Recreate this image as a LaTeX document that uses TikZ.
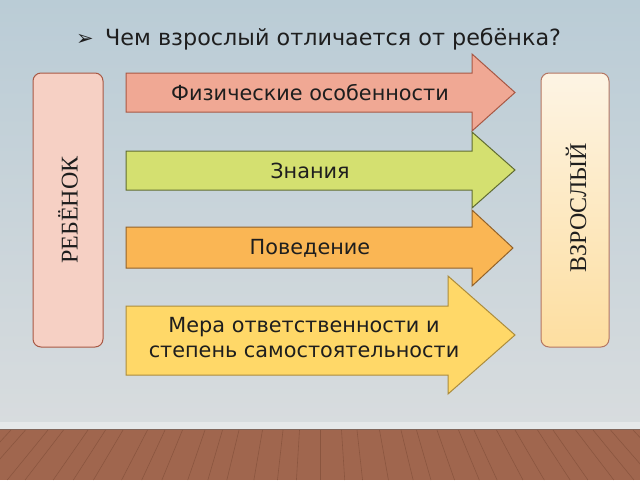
\documentclass[tikz,border=0pt]{standalone}
\usepackage{fontspec}
\setmainfont{DejaVu Sans}
\newfontfamily\serifbox{Liberation Serif}
\newfontfamily\symfont{DejaVu Sans}
\definecolor{bgtop}{RGB}{186,204,214}
\definecolor{bgmid}{RGB}{228,233,236}
\definecolor{bgbot}{RGB}{216,220,222}
\definecolor{floorc}{RGB}{160,102,78}
\definecolor{plank}{RGB}{118,70,50}
\definecolor{txt}{RGB}{30,30,30}
\definecolor{pinkf}{RGB}{240,168,148}
\definecolor{pinkd}{RGB}{168,88,68}
\definecolor{greenf}{RGB}{212,224,112}
\definecolor{greend}{RGB}{96,108,50}
\definecolor{orangef}{RGB}{250,182,84}
\definecolor{oranged}{RGB}{146,98,42}
\definecolor{yellowf}{RGB}{255,216,104}
\definecolor{yellowd}{RGB}{172,140,60}
\definecolor{childf}{RGB}{246,208,196}
\definecolor{adulttop}{RGB}{253,244,228}
\definecolor{adultbot}{RGB}{253,222,160}
\definecolor{adultd}{RGB}{180,118,98}
\tikzset{
  arrowshape/.style={line width=1pt, line join=miter},
  arrowtext/.style={text=txt, font=\fontsize{20.8}{25}\selectfont, align=center},
  sidebox/.style={line width=1pt, rounded corners=8pt},
  sidetext/.style={text=txt, font=\serifbox\fontsize{24}{28}\selectfont, rotate=90}
}
\begin{document}
\begin{tikzpicture}[x=1pt,y=-1pt]
\useasboundingbox (0,0) rectangle (640,480);
% background
\shade[top color=bgtop, middle color=bgmid, bottom color=bgbot] (0,0) rectangle (640,429);
\fill[white, opacity=0.35] (0,422) rectangle (640,429);
% floor
\fill[floorc] (0,429) rectangle (640,480);
\foreach \i/\d in {-17/0,-16/3,-15/-2,-14/1,-13/-3,-12/2,-11/0,-10/-2,-9/3,-8/1,-7/-1,-6/2,-5/0,-4/-3,-3/1,-2/2,-1/-1,0/0,1/2,2/-2,3/1,4/3,5/-1,6/0,7/2,8/-2,9/1,10/0,11/3,12/-1,13/2,14/0,15/-2,16/1,17/0} {
  \pgfmathsetmacro{\xt}{320+\i*19.5+\d}
  \pgfmathsetmacro{\xb}{320+(\i*19.5+\d)*1.15}
  \draw[plank, line width=0.6pt, opacity=0.5] (\xt,430) -- (\xb,480);
}
\draw[black!60, line width=1.2pt, opacity=0.55] (0,429.5) -- (640,429.5);
% title
\node[anchor=base west, text=txt, font=\symfont\fontsize{21}{24}\selectfont, inner sep=0pt] (bul) at (76,45) {➢};
\node[anchor=base west, text=txt, font=\fontsize{22.3}{26}\selectfont, inner sep=0pt] (title) at (105,45) {Чем взрослый отличается от ребёнка?};
% side boxes
\draw[sidebox, draw=pinkd, fill=childf] (33,73) rectangle (103,347);
\node[sidetext] (child) at (68,210) {РЕБЁНОК};
\shade[sidebox, top color=adulttop, bottom color=adultbot] (541,73) rectangle (609,347);
\draw[sidebox, draw=adultd] (541,73) rectangle (609,347);
\node[sidetext] (adult) at (576,208) {ВЗРОСЛЫЙ};
% arrows
\draw[arrowshape, draw=pinkd, fill=pinkf] (126,73) -- (472,73) -- (472,54) -- (515,92.5) -- (472,131) -- (472,112) -- (126,112) -- cycle;
\node[arrowtext] (a1) at (310,93) {Физические особенности};
\draw[arrowshape, draw=greend, fill=greenf] (126,151) -- (472,151) -- (472,132) -- (515,170) -- (472,208) -- (472,190) -- (126,190) -- cycle;
\node[arrowtext] (a2) at (310,171) {Знания};
\draw[arrowshape, draw=oranged, fill=orangef] (126,227) -- (472,227) -- (472,210) -- (513,248) -- (472,286) -- (472,268) -- (126,268) -- cycle;
\node[arrowtext] (a3) at (310,248) {Поведение};
\draw[arrowshape, draw=yellowd, fill=yellowf] (126,306) -- (448,306) -- (448,276) -- (515,335) -- (448,394) -- (448,375) -- (126,375) -- cycle;
\node[arrowtext] (a4) at (304,338) {Мера ответственности и\\степень самостоятельности};
\end{tikzpicture}
\end{document}
